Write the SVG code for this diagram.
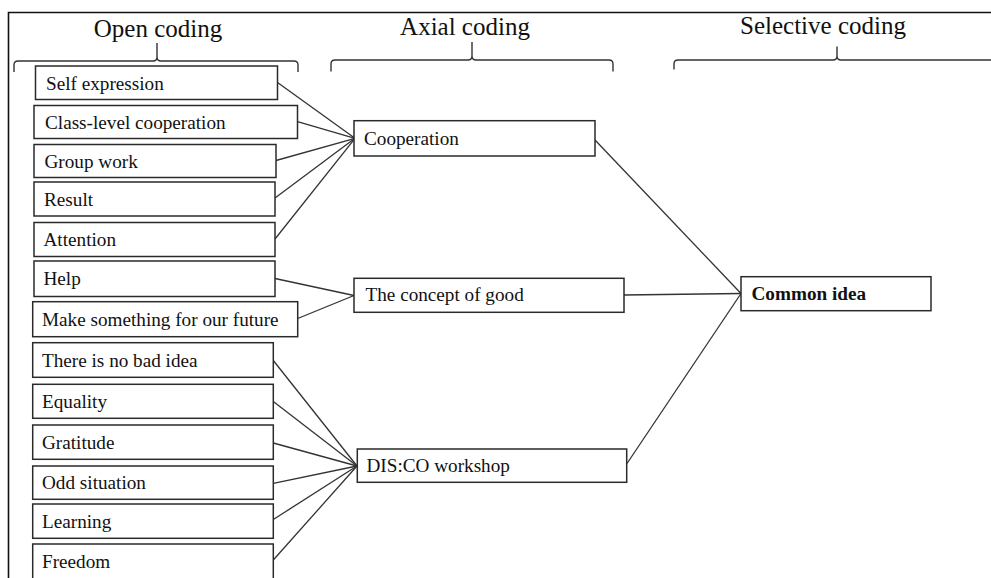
<svg xmlns="http://www.w3.org/2000/svg" width="991" height="578" viewBox="0 0 991 578">
  <style>
    .frame { fill: none; stroke: #111; stroke-width: 1.6; }
    .brace { fill: none; stroke: #333; stroke-width: 1.4; }
    .box { fill: #fff; stroke: #2a2a2a; stroke-width: 1.5; }
    .link { fill: none; stroke: #333; stroke-width: 1.3; }
    .head { font-family: "Liberation Serif", "Times New Roman", serif; font-size: 25px; fill: #111; text-anchor: middle; }
    .label { font-family: "Liberation Serif", "Times New Roman", serif; font-size: 19.2px; fill: #111; }
    .bold { font-weight: bold; }
  </style>
  <rect width="991" height="578" fill="#fff"/>

  <!-- outer frame: top rule and left edge -->
  <g id="frame">
    <path class="frame" d="M8.5,578 V12.5 H991"/>
  </g>

  <!-- column headings with their braces -->
  <g id="heading-open">
    <text class="head" x="158" y="37">Open coding</text>
    <path class="brace" d="M14,72 V65 Q14,61 18,61 H153 Q157,61 157,57 V43 M157,57 Q157,61 161,61 H294 Q298,61 298,65 V72"/>
  </g>
  <g id="heading-axial">
    <text class="head" x="465" y="35">Axial coding</text>
    <path class="brace" d="M331,71.5 V64 Q331,60 335,60 H468 Q472,60 472,56 V42 M472,56 Q472,60 476,60 H609 Q613,60 613,64 V71.5"/>
  </g>
  <g id="heading-selective">
    <text class="head" x="823" y="33.5">Selective coding</text>
    <path class="brace" d="M674,69.5 V64 Q674,60 678,60 H833 Q837,60 837,56 V46.5 M837,56 Q837,60 841,60 H991"/>
  </g>

  <!-- connectors -->
  <g id="connectors">
    <!-- open codes to Cooperation -->
    <line class="link" x1="277.5" y1="82.5" x2="355" y2="138.3"/>
    <line class="link" x1="297.5" y1="121.7" x2="355" y2="138.3"/>
    <line class="link" x1="276" y1="160.5" x2="355" y2="138.3"/>
    <line class="link" x1="275" y1="198" x2="355" y2="138.3"/>
    <line class="link" x1="275" y1="239" x2="355" y2="138.3"/>
    <!-- open codes to The concept of good -->
    <line class="link" x1="275" y1="278.5" x2="354" y2="295.5"/>
    <line class="link" x1="297.7" y1="318.5" x2="354" y2="295.5"/>
    <!-- open codes to DIS:CO workshop -->
    <line class="link" x1="273.3" y1="360.5" x2="357" y2="466"/>
    <line class="link" x1="273.3" y1="401.5" x2="357" y2="466"/>
    <line class="link" x1="273.3" y1="443" x2="357" y2="466"/>
    <line class="link" x1="273.3" y1="483.3" x2="357" y2="466"/>
    <line class="link" x1="273.3" y1="519.5" x2="357" y2="466"/>
    <line class="link" x1="273.3" y1="560" x2="357" y2="466"/>
    <!-- axial codes to Common idea -->
    <line class="link" x1="595" y1="140" x2="741" y2="293.5"/>
    <line class="link" x1="624" y1="295" x2="741" y2="293.5"/>
    <line class="link" x1="627" y1="463.5" x2="741" y2="293.5"/>
  </g>

  <!-- open codes -->
  <g id="open-self-expression">
    <rect class="box" x="35.5" y="66" width="242" height="33.5"/>
    <text class="label" x="46" y="89.5">Self expression</text>
  </g>
  <g id="open-class-level-cooperation">
    <rect class="box" x="34" y="105.5" width="263.5" height="33"/>
    <text class="label" x="45" y="128.5">Class-level cooperation</text>
  </g>
  <g id="open-group-work">
    <rect class="box" x="34" y="144.5" width="242" height="33"/>
    <text class="label" x="44.5" y="167.5">Group work</text>
  </g>
  <g id="open-result">
    <rect class="box" x="34" y="182" width="241" height="34"/>
    <text class="label" x="44" y="205.5">Result</text>
  </g>
  <g id="open-attention">
    <rect class="box" x="34" y="222.5" width="241" height="34"/>
    <text class="label" x="43.5" y="246">Attention</text>
  </g>
  <g id="open-help">
    <rect class="box" x="34" y="261" width="241" height="35.5"/>
    <text class="label" x="43.5" y="285">Help</text>
  </g>
  <g id="open-make-something">
    <rect class="box" x="32.7" y="301.7" width="265" height="35"/>
    <text class="label" x="42" y="325.5">Make something for our future</text>
  </g>
  <g id="open-no-bad-idea">
    <rect class="box" x="32.7" y="342.7" width="240.6" height="34.6"/>
    <text class="label" x="42" y="366.5">There is no bad idea</text>
  </g>
  <g id="open-equality">
    <rect class="box" x="32.7" y="384.3" width="240.6" height="34"/>
    <text class="label" x="42" y="407.5">Equality</text>
  </g>
  <g id="open-gratitude">
    <rect class="box" x="32.7" y="425" width="240.6" height="34.3"/>
    <text class="label" x="42" y="448.5">Gratitude</text>
  </g>
  <g id="open-odd-situation">
    <rect class="box" x="32.7" y="466" width="240.6" height="33.3"/>
    <text class="label" x="42" y="489">Odd situation</text>
  </g>
  <g id="open-learning">
    <rect class="box" x="32.7" y="504" width="240.6" height="34.3"/>
    <text class="label" x="42" y="527.5">Learning</text>
  </g>
  <g id="open-freedom">
    <rect class="box" x="32.7" y="544" width="240.6" height="40"/>
    <text class="label" x="42" y="568">Freedom</text>
  </g>

  <!-- axial codes -->
  <g id="axial-cooperation">
    <rect class="box" x="354" y="120.7" width="241" height="35.3"/>
    <text class="label" x="364" y="145">Cooperation</text>
  </g>
  <g id="axial-concept-of-good">
    <rect class="box" x="354" y="278.3" width="270" height="34"/>
    <text class="label" x="365.5" y="301">The concept of good</text>
  </g>
  <g id="axial-disco-workshop">
    <rect class="box" x="357.3" y="449" width="269.4" height="33.3"/>
    <text class="label" x="366.5" y="472">DIS:CO workshop</text>
  </g>

  <!-- selective code -->
  <g id="selective-common-idea">
    <rect class="box" x="741" y="276.7" width="190" height="34"/>
    <text class="label bold" x="751.5" y="300">Common idea</text>
  </g>
</svg>
